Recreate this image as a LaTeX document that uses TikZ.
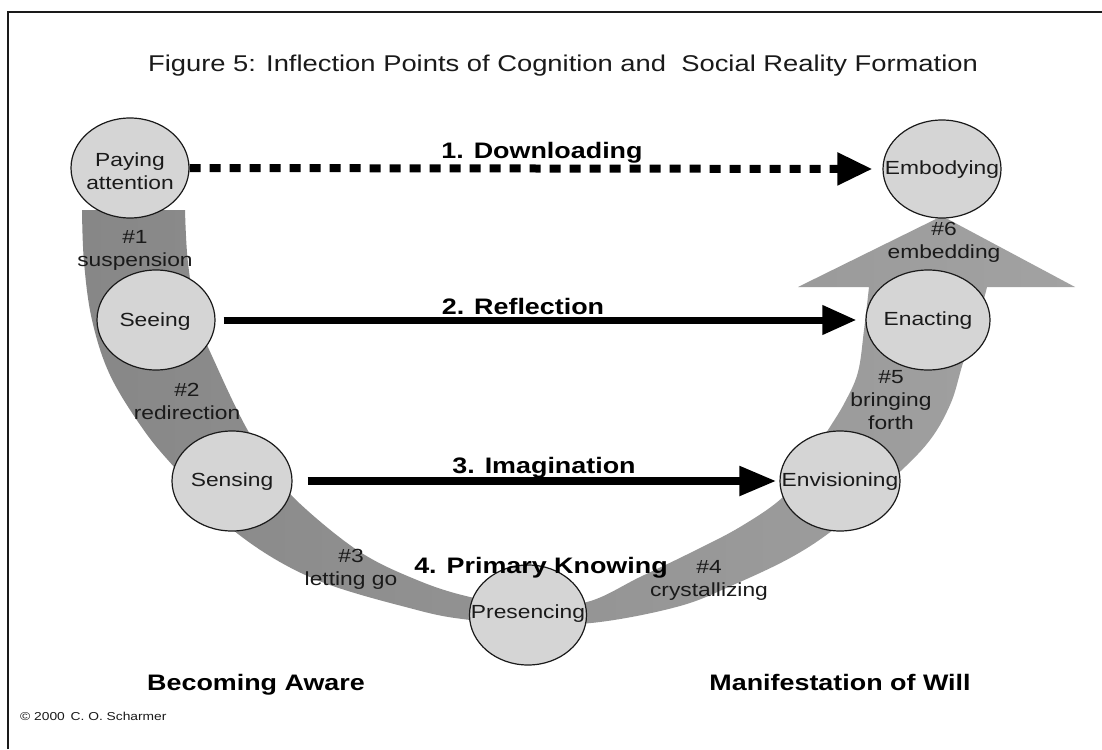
\documentclass[tikz,border=0pt]{standalone}
\usepackage{fontspec}
\setmainfont{Liberation Sans}[FakeStretch=1.2]
\usetikzlibrary{shapes.geometric,arrows.meta}
\definecolor{ellfill}{HTML}{D5D5D5}
\definecolor{bandL}{HTML}{878787}
\definecolor{bandR}{HTML}{A2A2A2}
\definecolor{ink}{HTML}{1A1A1A}
\begin{document}
\begin{tikzpicture}[x=1pt,y=-1pt,
  stage/.style={ellipse, draw=ink, line width=1.2pt, fill=ellfill, inner sep=0pt},
  stagetext/.style={font=\fontsize{19}{22.5}\selectfont, text=ink, align=center, inner sep=0pt},
  steplabel/.style={font=\fontsize{19}{23}\selectfont, text=ink, align=center, inner sep=0pt},
  levlabel/.style={font=\bfseries\fontsize{22.4}{26}\selectfont, text=black, anchor=base, inner sep=0pt},
  flow/.style={line width=8pt, draw=black},
]
\useasboundingbox (0,0) rectangle (1102,749);
\fill[white] (0,0) rectangle (1102,749);
% frame
\draw[line width=1.5pt, ink] (8,749) -- (8,12) -- (1102,12);
% title
\node[font=\fontsize{22.8}{27}\selectfont, text=ink, anchor=base, inner sep=0pt] (title) at (563,72) {Figure 5: Inflection Points of Cognition and\ \ Social Reality Formation};
% U-shaped band
\shade[left color=bandL, right color=bandR]
  (82,210) -- plot[smooth, tension=0.6] coordinates {(82,210) (84,262) (92,320) (110,375) (143,429) (175,468) (233,530) (312,578) (417,610) (470,620) (528,625) (600,622) (680,606) (733,585) (790,558) (833,530) (880,490) (926,445) (950,405) (963,363) (978,320) (987,287)}
  -- (1075,287) -- (942,216) -- (798,287) -- (869,287)
  -- plot[smooth, tension=0.6] coordinates {(869,287) (864,330) (858,372) (845,402) (828,430) (805,465) (783,497) (740,527) (690,553) (640,577) (587,602) (528,606) (470,597) (417,580) (357,550) (293,497) (272,465) (247,429) (217,367) (198,320) (188,263) (185,210)}
  -- cycle;
% stages
\node[stage, minimum width=118pt, minimum height=100pt] (pay) at (130,168) {};
\node[stage, minimum width=118pt, minimum height=98pt] (emb) at (942,169) {};
\node[stage, minimum width=118pt, minimum height=100pt] (see) at (156,320) {};
\node[stage, minimum width=124pt, minimum height=100pt] (ena) at (928,320) {};
\node[stage, minimum width=120pt, minimum height=100pt] (sen) at (232,481) {};
\node[stage, minimum width=120pt, minimum height=100pt] (env) at (840,481) {};
\node[stage, minimum width=117pt, minimum height=100pt] (pre) at (528,615) {};
\node[stagetext] (pay-t) at (130,171) {Paying\\attention};
\node[stagetext] (emb-t) at (942,170) {Embodying};
\node[stagetext] (see-t) at (155,322) {Seeing};
\node[stagetext] (ena-t) at (928,321) {Enacting};
\node[stagetext] (sen-t) at (232,482) {Sensing};
\node[stagetext] (env-t) at (840,482) {Envisioning};
\node[stagetext] (pre-t) at (528,614) {Presencing};
% connectors
\draw[flow, dash pattern=on 11pt off 9pt, -{Triangle[length=35pt,width=31pt]}, shorten >=10pt] (pay.east) -- (emb.west);
\draw[flow, line width=7pt, -{Triangle[length=34pt,width=28pt]}, shorten <=8pt, shorten >=9pt] (see.east) -- (ena.west);
\draw[flow, -{Triangle[length=37pt,width=28pt]}, shorten <=15pt, shorten >=3pt] (sen.east) -- (env.west);
% level labels
\node[levlabel] (l1) at (542,158) {1. Downloading};
\node[levlabel] (l2) at (523,314) {2. Reflection};
\node[levlabel] (l3) at (544,473) {3. Imagination};
\node[levlabel] (l4) at (541,573) {4. Primary Knowing};
% inflection labels
\node[steplabel] (s1) at (135,250) {\#1\\suspension};
\node[steplabel] (s2) at (187,401) {\#2\\redirection};
\node[steplabel] (s3) at (351,569) {\#3\\letting go};
\node[steplabel] (s4) at (709,580) {\#4\\crystallizing};
\node[steplabel] (s5) at (891,400) {\#5\\bringing\\forth};
\node[steplabel] (s6) at (944,242) {\#6\\embedding};
% bottom labels
\node[levlabel] (aware) at (256,690) {Becoming Aware};
\node[levlabel] (will) at (840,690) {Manifestation of Will};
\node[font=\fontsize{11.5}{13}\selectfont, text=ink, anchor=base west, inner sep=0pt] (copy) at (20,720) {© 2000\enspace C. O. Scharmer};
\end{tikzpicture}
\end{document}
